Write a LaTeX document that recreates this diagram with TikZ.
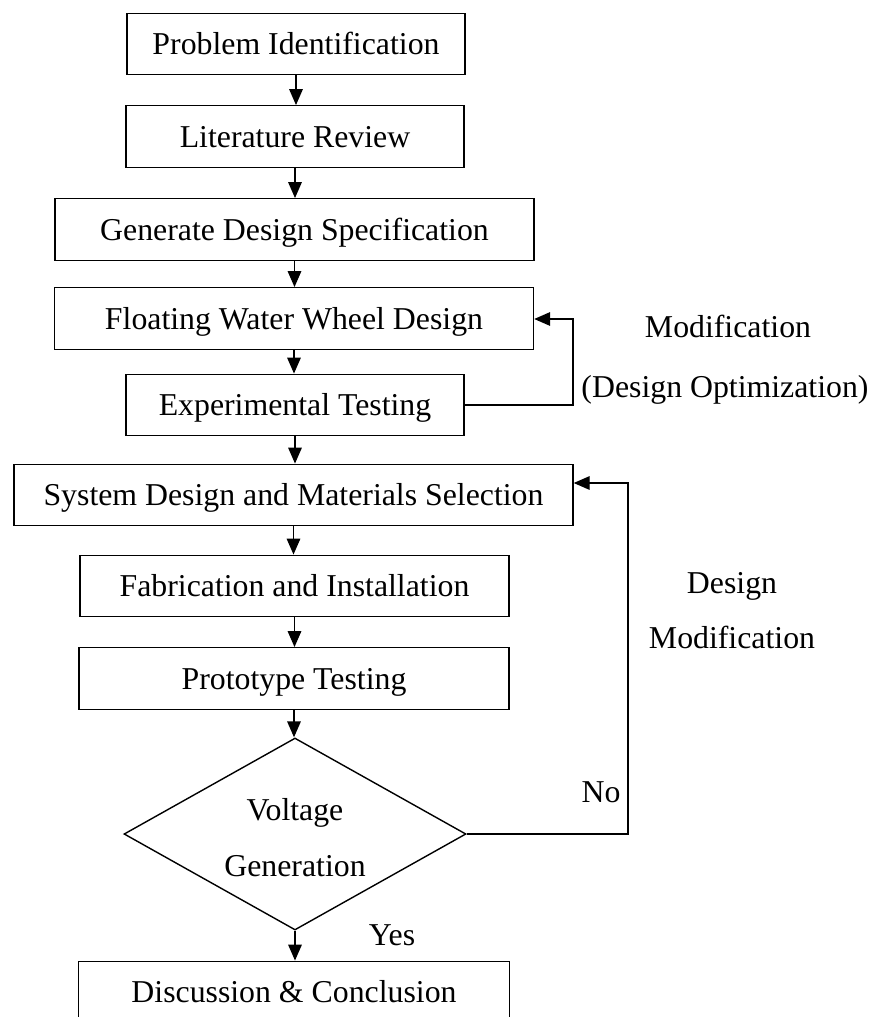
\documentclass[tikz,border=0pt]{standalone}
\usepackage{fontspec}
\setmainfont{Liberation Serif}
\usetikzlibrary{shapes.geometric,arrows.meta}
\begin{document}
\begin{tikzpicture}[x=0.5pt,y=-0.5pt,
  every node/.style={font=\fontsize{15.9pt}{19pt}\selectfont},
  stepbox/.style={draw, line width=0.7pt, rectangle, inner sep=0pt,
    minimum height=30.75pt, text height=10.5pt, text depth=0pt},
  decision/.style={draw, line width=0.7pt, diamond, inner sep=0pt,
    minimum width=171pt, minimum height=96pt},
  flow/.style={line width=0.7pt, -{Triangle[length=8pt,width=6.8pt]}},
  note/.style={anchor=base}
]
\useasboundingbox (0,0) rectangle (877,1017);
\clip (0,0) rectangle (877,1017);

% main column of process steps
\node[stepbox, minimum width=169pt]   (prob)  at (296,44)    {Problem Identification};
\node[stepbox, minimum width=169pt]   (lit)   at (295,136.5) {Literature Review};
\node[stepbox, minimum width=239.5pt] (spec)  at (294.5,229.5) {Generate Design Specification};
\node[stepbox, minimum width=239.5pt] (wheel) at (294,318.5) {Floating Water Wheel Design};
\node[stepbox, minimum width=169pt]   (exp)   at (295,405)   {Experimental Testing};
\node[stepbox, minimum width=279.5pt] (sys)   at (293.5,495) {System Design and Materials Selection};
\node[stepbox, minimum width=214.5pt] (fab)   at (294.5,586) {Fabrication and Installation};
\node[stepbox, minimum width=215pt]   (proto) at (294,678.5) {Prototype Testing};
\node[decision] (dec) at (295,834) {};
\node[note] (volt) at (295,820) {Voltage};
\node[note] (gen)  at (295,876) {Generation};
\node[stepbox, minimum width=215.5pt] (disc)  at (294,992)   {Discussion \& Conclusion};

% downward flow
\draw[flow] (prob.south)  -- (prob.south  |- lit.north);
\draw[flow] (lit.south)   -- (lit.south   |- spec.north);
\draw[flow] (spec.south)  -- (spec.south  |- wheel.north);
\draw[flow] (wheel.south) -- (wheel.south |- exp.north);
\draw[flow] (exp.south)   -- (exp.south   |- sys.north);
\draw[flow] (sys.south)   -- (sys.south   |- fab.north);
\draw[flow] (fab.south)   -- (fab.south   |- proto.north);
\draw[flow] (proto.south) -- (proto.south |- dec.north);
\draw[flow] (dec.south)   -- (dec.south   |- disc.north);

% feedback loops
\coordinate (loopA) at (573,319);
\draw[flow] (exp.east) -| (loopA) -- (wheel.east |- loopA);
\coordinate (loopB) at (628,483);
\draw[flow] (dec.east) -| (loopB) -- (sys.east |- loopB);

% loop labels
\node[note] (modA) at (728,337) {Modification};
\node[note] (optA) at (725,397) {(Design Optimization)};
\node[note] (desB) at (732,593) {Design};
\node[note] (modB) at (732,648) {Modification};
\node[note] (no)   at (601,802) {No};
\node[note] (yes)  at (392,945) {Yes};
\end{tikzpicture}
\end{document}
